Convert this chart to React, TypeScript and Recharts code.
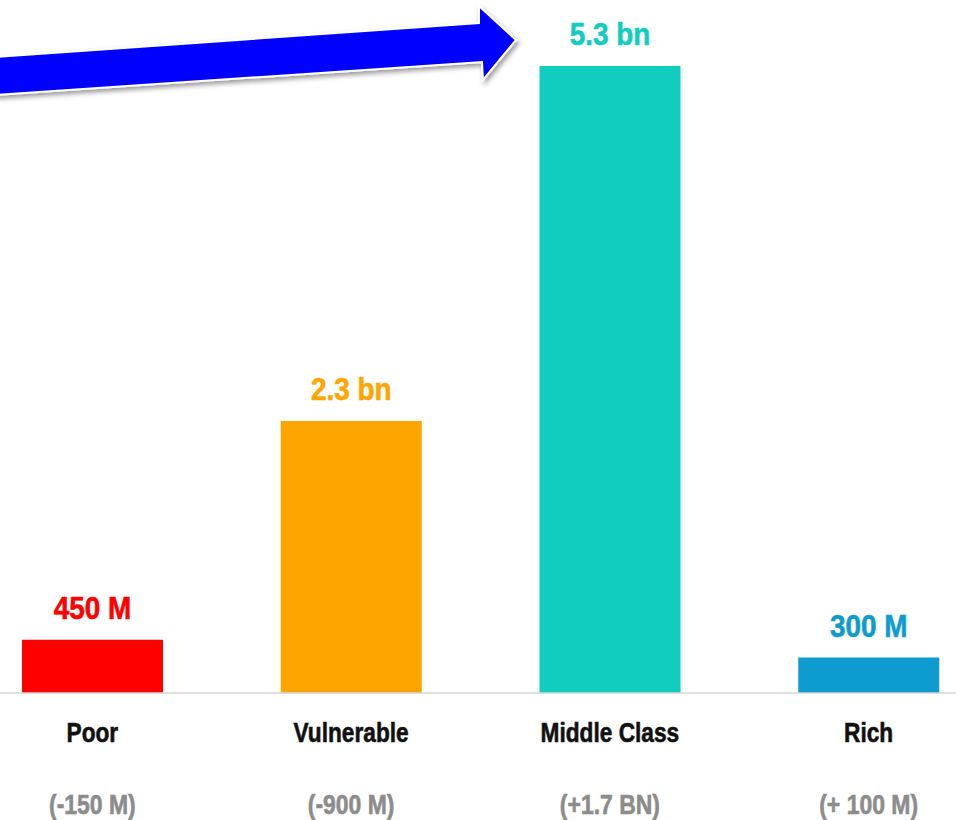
import React from "react";
import { BarChart, Bar, XAxis, YAxis, Cell, LabelList } from "recharts";

const categories = ["Poor", "Vulnerable", "Middle Class", "Rich"];
const population = [0.45, 2.3, 5.3, 0.3];
const valueLabels = ["450 M", "2.3 bn", "5.3 bn", "300 M"];
const changeLabels = ["(-150 M)", "(-900 M)", "(+1.7 BN)", "(+ 100 M)"];
const colours = ["#ff0000", "#ffa500", "#10cdc0", "#0e9bcf"];

const data = categories.map((name, i) => ({
  name,
  value: population[i],
  label: valueLabels[i],
  change: changeLabels[i],
  colour: colours[i],
}));

const FONT = '"Liberation Sans", Arial, sans-serif';

// narrow text by squeezing it horizontally (no condensed font available)
const Narrow = ({ x, y, sx, size, fill, children }: any) => (
  <text
    transform={`translate(${x} ${y}) scale(${sx} 1)`}
    x={0}
    y={0}
    textAnchor="middle"
    fontFamily={FONT}
    fontWeight={700}
    fontSize={size}
    fill={fill}
    stroke={fill}
    strokeWidth={0.6}
  >
    {children}
  </text>
);

const CategoryTick = (props: any) => {
  const { x, y, payload, index } = props;
  return (
    <g>
      <Narrow x={x} y={y + 49} sx={0.84} size={27} fill="#111">
        {payload.value}
      </Narrow>
      <Narrow x={x} y={y + 121} sx={0.85} size={27} fill="#8c8c8c">
        {changeLabels[index]}
      </Narrow>
    </g>
  );
};

const ValueLabel = (props: any) => {
  const { x, y, width, index } = props;
  return (
    <Narrow x={x + width / 2} y={y - 21} sx={0.9} size={31} fill={colours[index]}>
      {valueLabels[index]}
    </Narrow>
  );
};

export default function App() {
  return (
    <div
      style={{
        position: "absolute",
        left: 0,
        top: 0,
        width: 956,
        height: 820,
        overflow: "hidden",
        background: "#fff",
      }}
    >
      <div style={{ position: "absolute", left: -37, top: 0 }}>
        <BarChart
          width={1035}
          height={820}
          data={data}
          margin={{ top: 66, right: 0, left: 0, bottom: 0 }}
        >
          <XAxis
            dataKey="name"
            height={127}
            axisLine={{ stroke: "#d4d4d4", strokeWidth: 1.5 }}
            tickLine={false}
            tickSize={0}
            tickMargin={0}
            interval={0}
            tick={<CategoryTick />}
          />
          <YAxis hide domain={[0, 5.3]} />
          <Bar dataKey="value" barSize={141} isAnimationActive={false}>
            {data.map((entry, index) => (
              <Cell key={index} fill={entry.colour} />
            ))}
            <LabelList dataKey="label" content={<ValueLabel />} />
          </Bar>
        </BarChart>
      </div>
      <svg
        width={956}
        height={820}
        style={{ position: "absolute", left: 0, top: 0, pointerEvents: "none" }}
      >
        <defs>
          <filter id="arrowShadow" x="-10%" y="-50%" width="120%" height="200%">
            <feDropShadow dx="2" dy="3" stdDeviation="2.5" floodColor="#000" floodOpacity="0.4" />
          </filter>
        </defs>
        <polygon
          points="-5,57 479,23 479,6 516,40 483,80 482,62 -5,95"
          fill="#0000ff"
          stroke="#ffffff"
          strokeWidth={2}
          filter="url(#arrowShadow)"
        />
      </svg>
    </div>
  );
}
